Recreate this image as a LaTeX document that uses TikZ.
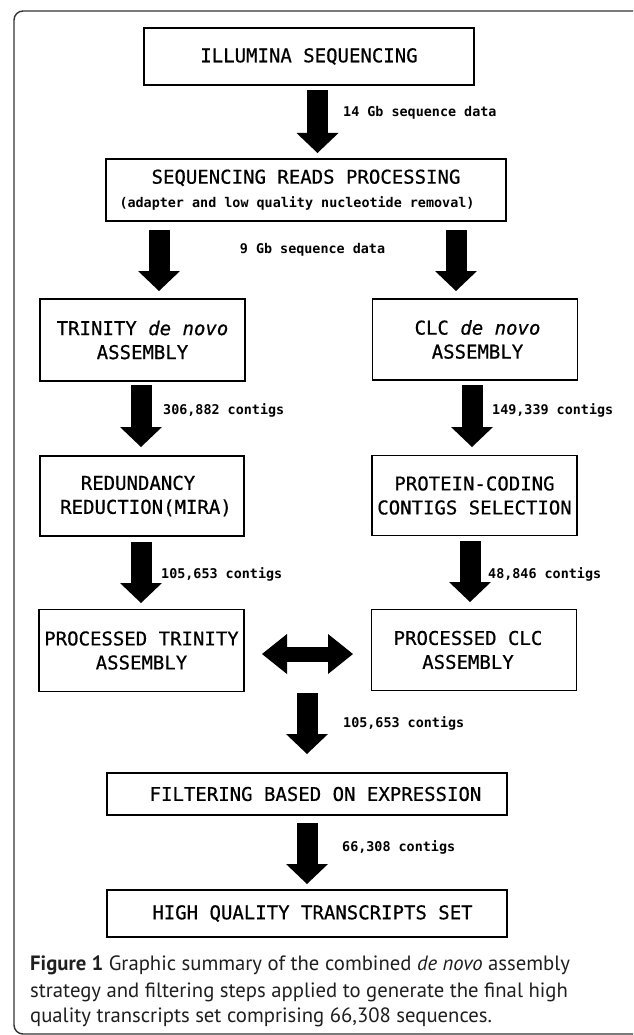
\documentclass[tikz,border=0pt]{standalone}
\usepackage{fontspec}
\usetikzlibrary{arrows.meta}
\newfontfamily\boxfont[FakeBold=0.6]{DejaVu Sans Mono}
\newfontfamily\lblfont{DejaVu Sans Mono}
\newfontfamily\capfont{PT Sans}
\tikzset{
  box/.style={draw=black, line width=1.6pt, inner sep=0pt, align=center,
    font=\boxfont\fontsize{19}{24}\selectfont},
  lbl/.style={font=\lblfont\bfseries\fontsize{13.4}{16}\selectfont, inner sep=0pt, anchor=base west},
  captxt/.style={font=\capfont\fontsize{20.7}{24}\selectfont, text=black!88, inner sep=0pt, anchor=base west},
  bigarrow/.style={line width=21pt, -{Triangle[width=42pt,length=20pt,line width=0pt]}},
  dblarrow/.style={line width=15pt,
    {Triangle[width=40pt,length=25pt,line width=0pt]}-{Triangle[width=40pt,length=25pt,line width=0pt]}},
  framebox/.style={draw=black!80, line width=1.4pt, rounded corners=9pt}
}
\begin{document}
\begin{tikzpicture}[x=1pt,y=-1pt]
\fill[white] (0,0) rectangle (633,1035);
\useasboundingbox (0,0) rectangle (633,1035);
\begin{scope}
  \clip (0,0) rectangle (633,1035);
  \draw[framebox] (14,11) rectangle (660,1034);
\end{scope}

% boxes
\node[box, minimum width=330pt, minimum height=57pt] (illumina) at (309,56.5) {ILLUMINA SEQUENCING};
\node[box, minimum width=400pt, minimum height=62pt] (srp) at (306,190)
  {SEQUENCING READS PROCESSING\\\lblfont\bfseries\fontsize{13.4}{17}\selectfont (adapter and low quality nucleotide removal)\hspace*{18pt}};
\node[box, minimum width=205pt, minimum height=82pt] (trinity) at (142.5,340) {TRINITY \textit{de novo}\\ASSEMBLY};
\node[box, minimum width=205pt, minimum height=81pt] (clc) at (475,339.5) {\hspace*{5pt}CLC \textit{de novo}\\\hspace*{5pt}ASSEMBLY};
\node[box, minimum width=204pt, minimum height=80pt] (redund) at (142,496) {REDUNDANCY\hspace*{8pt}\\\hspace*{8pt}REDUCTION(MIRA)};
\node[box, minimum width=205pt, minimum height=80pt] (protein) at (474.5,495.5) {PROTEIN-CODING\\CONTIGS SELECTION};
\node[box, minimum width=205pt, minimum height=82pt] (ptrin) at (141.5,650.5) {PROCESSED TRINITY\\ASSEMBLY};
\node[box, minimum width=205pt, minimum height=81pt] (pclc) at (474,650) {PROCESSED CLC\hspace*{12pt}\\ASSEMBLY\hspace*{12pt}};
\node[box, minimum width=400pt, minimum height=42pt] (filter) at (307,794) {\hspace*{17pt}FILTERING BASED ON EXPRESSION};
\node[box, minimum width=400pt, minimum height=47pt] (high) at (307,913.5) {\hspace*{11pt}HIGH QUALITY TRANSCRIPTS SET};

% arrow end points
\coordinate (a1s) at (317.5,90);  \coordinate (a1e) at (317.5,153);
\coordinate (a2ls) at (159,230);  \coordinate (a2le) at (159,291);
\coordinate (a2rs) at (456,230);  \coordinate (a2re) at (456,291);
\coordinate (a3ls) at (141,385);  \coordinate (a3le) at (141,447);
\coordinate (a3rs) at (472,385);  \coordinate (a3re) at (472,447);
\coordinate (a4ls) at (141,542);  \coordinate (a4le) at (141,603);
\coordinate (a4rs) at (470,541);  \coordinate (a4re) at (470,602);
\coordinate (a5s) at (307,693);   \coordinate (a5e) at (307,754);
\coordinate (a6s) at (307,823);   \coordinate (a6e) at (307,884);
\coordinate (dl) at (262,654);    \coordinate (dr) at (353,654);

\draw[bigarrow] (a1s) -- (a1e);
\draw[bigarrow] (a2ls) -- (a2le);
\draw[bigarrow] (a2rs) -- (a2re);
\draw[bigarrow] (a3ls) -- (a3le);
\draw[bigarrow] (a3rs) -- (a3re);
\draw[bigarrow] (a4ls) -- (a4le);
\draw[bigarrow] (a4rs) -- (a4re);
\draw[bigarrow] (a5s) -- (a5e);
\draw[bigarrow] (a6s) -- (a6e);
\draw[dblarrow] (dl) -- (dr);

% labels
\node[lbl] (l1) at (343,117) {14 Gb sequence data};
\node[lbl, anchor=base] (l2) at (312.5,253) {9 Gb sequence data};
\node[lbl] (l3) at (163,414) {306,882 contigs};
\node[lbl] (l4) at (492,414) {149,339 contigs};
\node[lbl] (l5) at (161,578) {105,653 contigs};
\node[lbl] (l6) at (488,578) {48,846 contigs};
\node[lbl] (l7) at (343,727) {105,653 contigs};
\node[lbl] (l8) at (342,851) {66,308 contigs};

% caption
\node[captxt] (c1) at (30,970) {\textbf{Figure 1} Graphic summary of the combined \textit{de novo} assembly};
\node[captxt] (c2) at (30,997) {strategy and filtering steps applied to generate the final high};
\node[captxt] (c3) at (30,1022) {quality transcripts set comprising 66,308 sequences.};
\end{tikzpicture}
\end{document}
